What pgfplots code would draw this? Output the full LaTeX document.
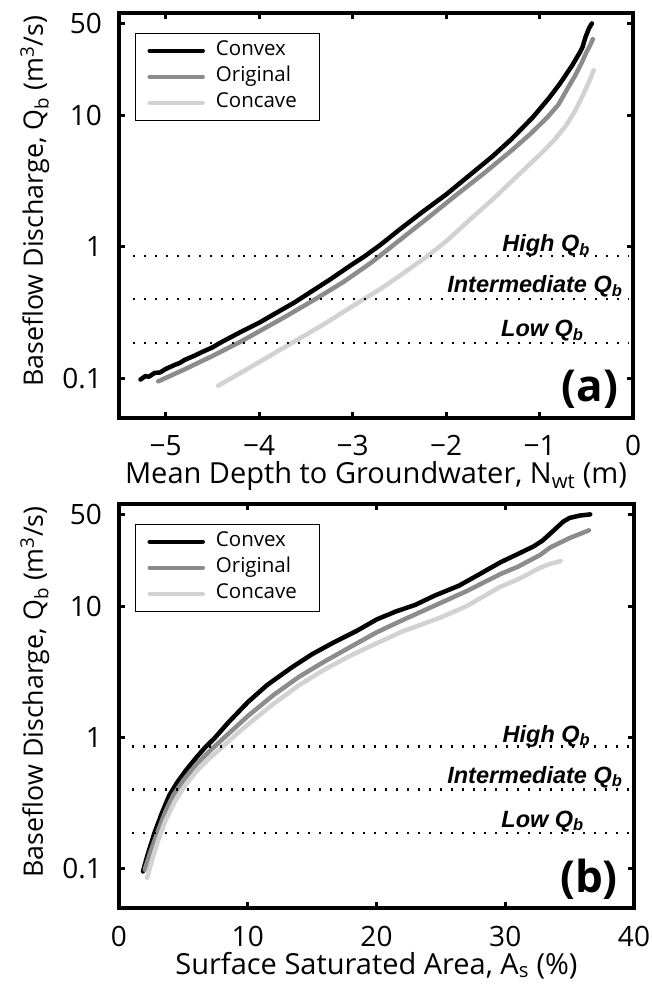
\documentclass[border=0pt]{standalone}
\usepackage{fontspec}
\setmainfont{Open Sans}
\newfontfamily\arialfont{Liberation Sans}
\usepackage{pgfplots}
\pgfplotsset{compat=1.18}

\definecolor{convex}{gray}{0}
\definecolor{original}{HTML}{8C8C8C}
\definecolor{concave}{HTML}{D2D2D2}

\newcommand{\tickfont}{\fontsize{28}{30}\selectfont}
\newcommand{\labfont}{\fontsize{29}{31}\selectfont}
\newcommand{\qlab}{\arialfont\bfseries\itshape\fontsize{23.5}{26}\selectfont}

\pgfplotsset{
  panel/.style={
    scale only axis,
    ytick={0.1,1,10,50},
    yticklabels={0.1,1,10,50},
    axis line style={line width=4pt},
    tick align=inside,
    major tick length=6pt,
    every tick/.style={line width=3pt, black},
    tick label style={font=\tickfont},
    xticklabel style={anchor=base, inner sep=0pt, yshift=-38pt},
    yticklabel style={anchor=east, inner sep=0pt, xshift=-17pt},
    xlabel style={font=\labfont, anchor=base, inner sep=0pt, text height=19pt,
      at={(axis description cs:0.5,0)}, yshift=-66pt},
    ylabel style={font=\fontsize{26.8}{28}\selectfont, anchor=base, inner sep=0pt,
      at={(axis description cs:-0.148,0.535)}},
    legend cell align=left,
    legend style={at={(axis description cs:0.031,0.951)}, anchor=north west,
      draw=black, line width=1pt, font=\fontsize{20.5}{22}\selectfont,
      row sep=1pt,
      nodes={text height=14pt, text depth=5pt, inner ysep=3pt, inner xsep=11pt},
      inner xsep=12pt, inner ysep=5pt},
    legend image code/.code={\draw[#1] (0pt,0pt) -- (53pt,0pt);},
    every axis plot/.append style={line width=4.5pt, line join=round, line cap=round},
  },
}
\tikzset{qline/.style={line width=2.2pt, dash pattern=on 2.2pt off 8.8pt, black, line cap=butt}}

\begin{document}
\begin{tikzpicture}
\useasboundingbox (0,0) rectangle (652pt,984pt);

% panel (a)
\begin{axis}[panel,
  ymode=log, ymin=0.05, ymax=60, yminorticks=false,
  at={(119pt,566pt)}, anchor=south west,
  width=514pt, height=405pt,
  xmin=-5.5, xmax=0,
  xtick={-5,-4,-3,-2,-1,0},
  xticklabels={−5,−4,−3,−2,−1,0},
  xlabel={Mean Depth to Groundwater, N\textsubscript{wt} (m)},
  ylabel={Baseflow Discharge, Q\textsubscript{b} (m\textsuperscript{3}/s)},
]
\addplot[convex] coordinates {
(-5.27,0.098) (-5.22,0.104) (-5.18,0.103) (-5.12,0.110) (-5.06,0.111) (-5.0,0.118)
(-4.9,0.127) (-4.85,0.131) (-4.8,0.138) (-4.7,0.148) (-4.6,0.160) (-4.5,0.172)
(-4.42,0.186) (-4.2,0.225) (-4.0,0.265) (-3.8,0.32) (-3.63,0.375) (-3.5,0.43)
(-3.25,0.56) (-3.0,0.74) (-2.88,0.84) (-2.7,1.04) (-2.5,1.35) (-2.25,1.85)
(-2.0,2.5) (-1.75,3.5) (-1.5,4.9) (-1.3,6.6) (-1.07,9.7) (-0.9,13.5)
(-0.78,17.5) (-0.65,24) (-0.57,30) (-0.54,33) (-0.51,39) (-0.47,46) (-0.44,50)
};
\addplot[original] coordinates {
(-5.08,0.095) (-4.8,0.117) (-4.5,0.148) (-4.2,0.19) (-4.0,0.228) (-3.7,0.30)
(-3.4,0.40) (-3.1,0.54) (-2.8,0.76) (-2.5,1.12) (-2.2,1.65) (-1.9,2.45)
(-1.6,3.6) (-1.3,5.4) (-1.1,7.2) (-0.92,9.6) (-0.8,12.0) (-0.7,16.0)
(-0.62,20) (-0.55,25) (-0.5,30) (-0.46,34) (-0.43,38)
};
\addplot[concave] coordinates {
(-4.44,0.088) (-4.2,0.110) (-4.0,0.133) (-3.65,0.186) (-3.3,0.26) (-3.1,0.32)
(-2.88,0.40) (-2.7,0.48) (-2.5,0.60) (-2.21,0.84) (-2.0,1.1) (-1.75,1.6)
(-1.5,2.3) (-1.25,3.4) (-1.0,5.0) (-0.85,6.4) (-0.72,8.3) (-0.62,10.8)
(-0.54,14) (-0.47,18) (-0.42,22)
};
\legend{Convex,Original,Concave}
\addplot[qline, forget plot] coordinates {(-5.35,0.85) (-0.05,0.85)};
\addplot[qline, forget plot] coordinates {(-5.35,0.40) (-0.05,0.40)};
\addplot[qline, forget plot] coordinates {(-5.35,0.186) (-0.05,0.186)};
\node[font=\qlab, anchor=base] at (axis cs:-0.93,0.92) {High Q\textsubscript{b}};
\node[font=\qlab, anchor=base] at (axis cs:-1.05,0.447) {Intermediate Q\textsubscript{b}};
\node[font=\qlab, anchor=base] at (axis cs:-0.97,0.207) {Low Q\textsubscript{b}};
\node[font=\bfseries\fontsize{44}{44}\selectfont] at (axis cs:-0.46,0.0825) {(a)};
\end{axis}

% panel (b)
\begin{axis}[panel,
  ymode=log, ymin=0.05, ymax=60, yminorticks=false,
  at={(119pt,76pt)}, anchor=south west,
  width=515pt, height=404pt,
  xmin=0, xmax=40,
  xtick={0,10,20,30,40},
  xticklabels={0,10,20,30,40},
  xlabel={Surface Saturated Area, A\textsubscript{s} (\%)},
  ylabel={Baseflow Discharge, Q\textsubscript{b} (m\textsuperscript{3}/s)},
]
\addplot[convex] coordinates {
(1.86,0.095) (2.2,0.125) (2.75,0.186) (3.3,0.26) (3.9,0.36) (4.5,0.45)
(5.2,0.56) (6.0,0.70) (6.7,0.84) (7.4,0.98) (8.5,1.3) (10.0,1.85)
(11.5,2.5) (13.4,3.4) (15.0,4.3) (16.7,5.3) (18.5,6.5) (20.0,7.9)
(21.5,9.1) (23.0,10.2) (24.5,12.0) (26.4,14.3) (28.0,17.5) (29.6,21.5)
(31.0,25) (32.2,28.5) (32.9,31.6) (33.8,38) (34.5,44) (35.0,47) (35.8,49) (36.6,50)
};
\addplot[original] coordinates {
(2.0,0.098) (2.4,0.13) (3.0,0.19) (3.6,0.27) (4.2,0.36) (5.0,0.47)
(6.0,0.62) (7.0,0.78) (8.0,0.96) (9.0,1.18) (10.0,1.45) (12.0,2.1)
(14.0,2.9) (16.0,3.8) (18.0,4.9) (20.0,6.3) (22.0,7.8) (25.0,10.6)
(27.0,13.0) (29.6,17.5) (31.0,20) (32.7,24.5) (33.5,28) (35.0,33) (36.5,37.8)
};
\addplot[concave] coordinates {
(2.17,0.085) (2.5,0.11) (3.0,0.16) (3.6,0.23) (4.3,0.32) (5.0,0.41)
(6.0,0.55) (7.0,0.69) (8.0,0.84) (9.0,1.03) (10.0,1.25) (12.0,1.8)
(14.0,2.5) (16.0,3.3) (18.0,4.2) (20.0,5.2) (22.0,6.4) (25.0,8.2)
(27.0,10.0) (29.6,14) (31.0,16) (32.7,19.6) (33.5,21) (34.3,22)
};
\legend{Convex,Original,Concave}
\addplot[qline, forget plot] coordinates {(1.0,0.85) (39.6,0.85)};
\addplot[qline, forget plot] coordinates {(1.0,0.40) (39.6,0.40)};
\addplot[qline, forget plot] coordinates {(1.0,0.186) (39.6,0.186)};
\node[font=\qlab, anchor=base] at (axis cs:33.2,0.92) {High Q\textsubscript{b}};
\node[font=\qlab, anchor=base] at (axis cs:32.3,0.447) {Intermediate Q\textsubscript{b}};
\node[font=\qlab, anchor=base] at (axis cs:32.9,0.207) {Low Q\textsubscript{b}};
\node[font=\bfseries\fontsize{44}{44}\selectfont] at (axis cs:36.5,0.0825) {(b)};
\end{axis}
\end{tikzpicture}
\end{document}
